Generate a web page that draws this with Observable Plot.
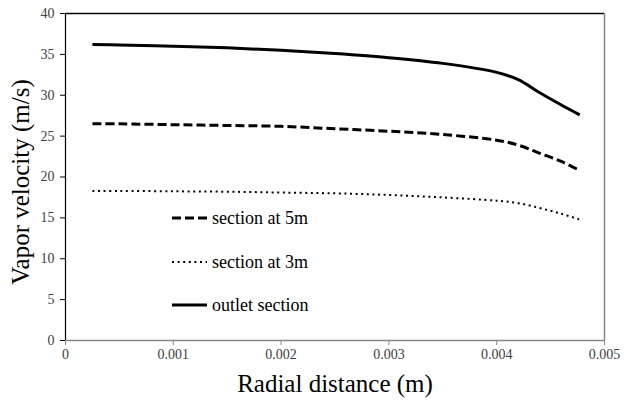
<!DOCTYPE html>
<html>
<head>
<meta charset="utf-8">
<script src="https://cdn.jsdelivr.net/npm/d3@7"></script>
<script src="https://cdn.jsdelivr.net/npm/@observablehq/plot@0.6"></script>
<style>
  html, body { margin: 0; padding: 0; background: #fff; }
  #wrap { position: relative; width: 624px; height: 403px; }
  #wrap svg text { font-family: "Liberation Serif", "Times New Roman", serif; }
  #legend { position: absolute; left: 0; top: 0; pointer-events: none; }
</style>
</head>
<body>
<div id="wrap"></div>
<script>
// ---- data ----
const radialDistance = [0.00025, 0.0005, 0.001, 0.0015, 0.002, 0.0025, 0.003, 0.0035, 0.004, 0.0042, 0.0044, 0.0046, 0.00477];
const section5m     = [26.5, 26.5, 26.4, 26.3, 26.2, 25.9, 25.6, 25.2, 24.5, 23.9, 22.9, 21.9, 20.8];
const section3m     = [18.3, 18.3, 18.25, 18.2, 18.1, 18.0, 17.8, 17.5, 17.1, 16.8, 16.2, 15.5, 14.8];
const outletSection = [36.2, 36.15, 36.0, 35.8, 35.5, 35.1, 34.6, 33.9, 32.8, 31.9, 30.3, 28.8, 27.6];
const seriesNames = ["section at 5m", "section at 3m", "outlet section"];
const xTicks = [0, 0.001, 0.002, 0.003, 0.004, 0.005];
const xTickLabels = ["0", "0.001", "0.002", "0.003", "0.004", "0.005"];
const yTicks = [0, 5, 10, 15, 20, 25, 30, 35, 40];
const xTitle = "Radial distance (m)";
const yTitle = "Vapor velocity (m/s)";

const styles = {
  "section at 5m": {strokeWidth: 3, strokeDasharray: "9,4"},
  "section at 3m": {strokeWidth: 2, strokeDasharray: "2,3.6"},
  "outlet section": {strokeWidth: 3, strokeDasharray: null}
};
const seriesValues = [section5m, section3m, outletSection];
const rows = seriesNames.map((name, i) => radialDistance.map((x, j) => ({name, x, y: seriesValues[i][j]})));

const serif = "Liberation Serif, Times New Roman, serif";

const lineMarks = rows.map(data => {
  const s = styles[data[0].name];
  return Plot.line(data, {x: "x", y: "y", stroke: "#000", strokeWidth: s.strokeWidth,
    strokeDasharray: s.strokeDasharray, curve: "catmull-rom", strokeLinecap: "butt"});
});

const plot = Plot.plot({
  width: 624,
  height: 403,
  marginLeft: 65,
  marginRight: 20,
  marginTop: 13,
  marginBottom: 63,
  style: {fontFamily: serif, background: "#fff"},
  x: {domain: [xTicks[0], xTicks[xTicks.length - 1]]},
  y: {domain: [yTicks[0], yTicks[yTicks.length - 1]]},
  marks: [
    Plot.ruleY([yTicks[yTicks.length - 1]], {stroke: "#000", strokeWidth: 1.5}),
    Plot.ruleX([xTicks[xTicks.length - 1]], {stroke: "#888", strokeWidth: 1.5}),
    Plot.ruleY([yTicks[0]], {stroke: "#888", strokeWidth: 1.5}),
    Plot.ruleX([xTicks[0]], {stroke: "#000", strokeWidth: 1.2}),
    Plot.axisX({ticks: xTicks, tickFormat: (d, i) => xTickLabels[i], tickSize: 5, tickPadding: 4,
      stroke: "#888", fill: "#404040", fontSize: 14, fontFamily: serif, label: null}),
    Plot.axisY({ticks: yTicks, tickSize: 5, tickPadding: 6, stroke: "#000",
      fill: "#404040", fontSize: 14, fontFamily: serif, label: null}),
    ...lineMarks,
    Plot.text([xTitle], {frameAnchor: "bottom", dy: 43, lineAnchor: "middle", textAnchor: "middle",
      fontSize: 25, fontFamily: serif, fill: "#000"}),
    Plot.text([yTitle], {frameAnchor: "left", dx: -45, dy: 5, rotate: -90, lineAnchor: "middle", textAnchor: "middle",
      fontSize: 25, fontFamily: serif, fill: "#000"})
  ]
});

const wrap = document.getElementById("wrap");
wrap.appendChild(plot);

// legend overlay
const ns = "http://www.w3.org/2000/svg";
const leg = document.createElementNS(ns, "svg");
leg.setAttribute("id", "legend");
leg.setAttribute("width", 624);
leg.setAttribute("height", 403);
const legendTops = [218, 262, 305];
seriesNames.forEach((name, i) => {
  const s = styles[name];
  const ln = document.createElementNS(ns, "line");
  ln.setAttribute("x1", 172); ln.setAttribute("x2", 207);
  ln.setAttribute("y1", legendTops[i]); ln.setAttribute("y2", legendTops[i]);
  ln.setAttribute("stroke", "#000");
  ln.setAttribute("stroke-width", s.strokeWidth);
  if (s.strokeDasharray) ln.setAttribute("stroke-dasharray", s.strokeDasharray);
  leg.appendChild(ln);
  const t = document.createElementNS(ns, "text");
  t.setAttribute("x", 212); t.setAttribute("y", legendTops[i]);
  t.setAttribute("dy", "0.32em");
  t.setAttribute("font-family", serif);
  t.setAttribute("font-size", 18);
  t.textContent = name;
  leg.appendChild(t);
});
wrap.appendChild(leg);
</script>
</body>
</html>
